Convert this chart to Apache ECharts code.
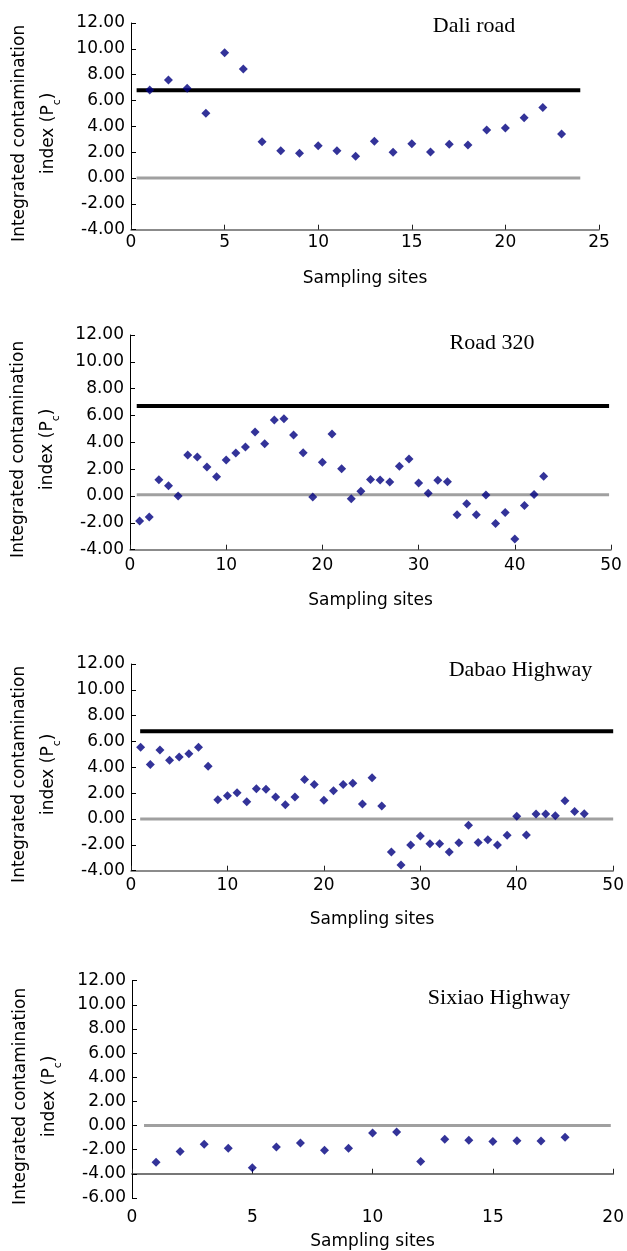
<!DOCTYPE html>
<html>
<head>
<meta charset="utf-8">
<script src="https://cdn.jsdelivr.net/npm/echarts@6/dist/echarts.min.js"></script>
<style>
html,body{margin:0;padding:0;background:#fff;}
#chart{width:627px;height:1251px;}
</style>
</head>
<body>
<div id="chart"></div>
<script>
// ---- data ----
const panelTitles = ['Dali road', 'Road 320', 'Dabao Highway', 'Sixiao Highway'];
const xAxisTitle = 'Sampling sites';

const daliValues = [6.81, 7.59, 6.94, 5.01, 9.70, 8.44, 2.81, 2.12, 1.91, 2.50,
  2.12, 1.68, 2.84, 1.99, 2.66, 2.01, 2.61, 2.55, 3.72, 3.87, 4.67, 5.45, 3.41];

const road320Values = [-1.86, -1.57, 1.22, 0.77, 0.00, 3.06, 2.91, 2.16, 1.44, 2.68,
  3.20, 3.65, 4.77, 3.90, 5.66, 5.76, 4.55, 3.23, -0.07, 2.51,
  4.62, 2.04, -0.20, 0.35, 1.24, 1.19, 1.04, 2.21, 2.76, 0.97,
  0.20, 1.17, 1.07, -1.39, -0.57, -1.39, 0.07, -2.04, -1.22, -3.20,
  -0.70, 0.12, 1.47];

const dabaoValues = [5.55, 4.23, 5.34, 4.54, 4.80, 5.06, 5.55, 4.08, 1.50, 1.81,
  2.04, 1.34, 2.35, 2.30, 1.70, 1.11, 1.70, 3.05, 2.68, 1.45,
  2.19, 2.68, 2.76, 1.16, 3.20, 1.01, -2.55, -3.56, -2.01, -1.32,
  -1.91, -1.91, -2.55, -1.83, -0.49, -1.81, -1.60, -2.01, -1.26, 0.21,
  -1.24, 0.39, 0.39, 0.26, 1.42, 0.59, 0.41];

const sixiaoValues = [-3.03, -2.15, -1.55, -1.88, -3.50, -1.77, -1.44, -2.05, -1.88, -0.61,
  -0.53, -2.98, -1.14, -1.22, -1.33, -1.25, -1.27, -0.97];

// horizontal reference lines: [xStart, xEnd, value]
const daliLimitLine = [0.3, 24, 6.8];
const daliZeroLine = [0.3, 24, 0];
const road320LimitLine = [0.7, 49.8, 6.7];
const road320ZeroLine = [0.7, 49.8, 0.1];
const dabaoLimitLine = [0.95, 50, 6.8];
const dabaoZeroLine = [0.95, 50, 0];
const sixiaoZeroLine = [0.5, 19.9, 0];

// axis ranges: [min, max, interval]
const xRanges = [[0, 25, 5], [0, 50, 10], [0, 50, 10], [0, 20, 5]];
const yRanges = [[-4, 12, 2], [-4, 12, 2], [-4, 12, 2], [-6, 12, 2]];

// ---- layout ----
const grids = [
  {left: 131, top: 23, width: 468, height: 206.7},
  {left: 130, top: 335, width: 481, height: 214.7},
  {left: 131, top: 664, width: 483.3, height: 206.7},
  {left: 132, top: 980.7, width: 483.3, height: 218.3}
];
const titlePos = [[469, 10.5], [487, 327], [515.5, 654.5], [494, 982.5]];
const xNameGap = [40, 42.5, 40, 35];
const xLabelMargin = [4, 7, 6, 11];

const FONT = 'DejaVu Sans';

function toPoints(vals) { return vals.map((v, i) => [i + 1, v]); }
function linePts(l) { return [[l[0], l[2]], [l[1], l[2]]]; }

const xAxes = [], yAxes = [], series = [], titles = [];

for (let i = 0; i < 4; i++) {
  titles.push({
    text: panelTitles[i],
    left: titlePos[i][0],
    top: titlePos[i][1],
    textAlign: 'center',
    textStyle: {fontFamily: 'Liberation Serif', fontSize: 22, fontWeight: 'normal', color: '#000'}
  });
  const isLast = i === 3;
  xAxes.push({
    type: 'value', gridIndex: i, position: 'bottom',
    min: xRanges[i][0], max: xRanges[i][1], interval: xRanges[i][2],
    name: xAxisTitle, nameLocation: 'middle', nameGap: xNameGap[i],
    nameTextStyle: {fontFamily: FONT, fontSize: 17, color: '#000'},
    axisLine: {show: !isLast, onZero: false, lineStyle: {color: '#666', width: 1.5}},
    axisTick: {show: !isLast, inside: true, length: 5, lineStyle: {color: '#222'}},
    axisLabel: {fontFamily: FONT, fontSize: 17, color: '#000', margin: xLabelMargin[i]},
    splitLine: {show: false}
  });
  yAxes.push({
    type: 'value', gridIndex: i, position: 'left',
    min: yRanges[i][0], max: yRanges[i][1], interval: yRanges[i][2],
    name: '{t|Integrated contamination}\n{t|index (P}{s|c}{t|)}',
    nameLocation: 'middle', nameRotate: 90, nameGap: 68,
    nameTextStyle: {
      padding: [0, 14, 0, 0],
      rich: {
        t: {fontFamily: FONT, fontSize: 17, color: '#000', lineHeight: 29},
        s: {fontFamily: FONT, fontSize: 11, color: '#000', lineHeight: 14, verticalAlign: 'bottom'}
      }
    },
    axisLine: {show: true, onZero: false, lineStyle: {color: '#000', width: 1}},
    axisTick: {show: true, inside: true, length: 5, lineStyle: {color: '#000'}},
    axisLabel: {fontFamily: FONT, fontSize: 17, color: '#000', margin: 6,
      formatter: v => v.toFixed(2)},
    splitLine: {show: false}
  });
}
// extra x axis for the Sixiao panel: the axis line crosses at -4
xAxes.push({
  type: 'value', gridIndex: 3, position: 'bottom',
  min: xRanges[3][0], max: xRanges[3][1], interval: xRanges[3][2],
  offset: -24.26,
  axisLine: {show: true, onZero: false, lineStyle: {color: '#777', width: 2}},
  axisTick: {show: true, inside: true, length: 5, lineStyle: {color: '#222'}},
  axisLabel: {show: false},
  splitLine: {show: false}
});

function refLine(idx, l, color, width) {
  series.push({
    type: 'line', xAxisIndex: idx, yAxisIndex: idx, data: linePts(l),
    symbol: 'none', silent: true, lineStyle: {color: color, width: width}, z: 1
  });
}
function scatter(idx, vals) {
  series.push({
    type: 'scatter', xAxisIndex: idx, yAxisIndex: idx, data: toPoints(vals),
    symbol: 'diamond', symbolSize: 9, itemStyle: {color: '#000080'}, z: 3
  });
}

refLine(0, daliLimitLine, '#000', 4);
refLine(0, daliZeroLine, '#a0a0a0', 3);
scatter(0, daliValues);
refLine(1, road320LimitLine, '#000', 4);
refLine(1, road320ZeroLine, '#a0a0a0', 3);
scatter(1, road320Values);
refLine(2, dabaoLimitLine, '#000', 4);
refLine(2, dabaoZeroLine, '#a0a0a0', 3);
scatter(2, dabaoValues);
refLine(3, sixiaoZeroLine, '#a0a0a0', 3);
scatter(3, sixiaoValues);

const chart = echarts.init(document.getElementById('chart'), null, {renderer: 'canvas'});
chart.setOption({
  animation: false,
  backgroundColor: '#fff',
  title: titles,
  grid: grids,
  xAxis: xAxes,
  yAxis: yAxes,
  series: series
});
</script>
</body>
</html>
